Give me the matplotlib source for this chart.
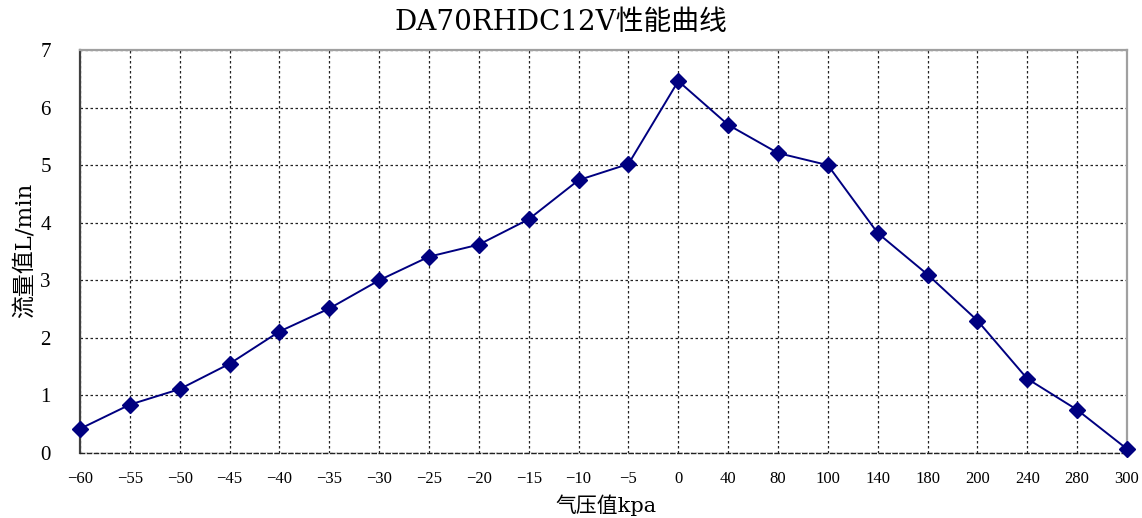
import matplotlib
matplotlib.use("Agg")
import matplotlib.pyplot as plt
import numpy as np

plt.rcParams['font.family'] = ['Liberation Serif', 'Noto Sans CJK SC', 'DejaVu Sans']

categories = ['-60', '-55', '-50', '-45', '-40', '-35', '-30', '-25', '-20', '-15', '-10', '-5',
              '0', '40', '80', '100', '140', '180', '200', '240', '280', '300']
flow = [0.42, 0.84, 1.11, 1.55, 2.11, 2.51, 3.00, 3.41, 3.62, 4.06, 4.74, 5.02,
        6.46, 5.70, 5.21, 5.00, 3.82, 3.10, 2.30, 1.29, 0.75, 0.07]
yticks = [0, 1, 2, 3, 4, 5, 6, 7]

title = 'DA70RHDC12V性能曲线'
xlabel = '气压值kpa'
ylabel = '流量值L/min'

label_family = ['DejaVu Serif', 'Noto Sans CJK SC', 'DejaVu Sans']

fig = plt.figure(figsize=(11.42, 5.18), dpi=100)
ax = fig.add_axes([80/1142, 1-453/518, (1127-80)/1142, (453-50)/518])

x = np.arange(len(categories))
ax.plot(x, flow, color='#000080', linewidth=1.4, marker='D', markersize=8.5,
        markerfacecolor='#000080', markeredgecolor='#000080', zorder=3, clip_on=False)

ax.set_xlim(0, len(categories)-1)
ax.set_ylim(0, 7)
ax.set_xticks(x)
ax.set_xticklabels([c.replace('-', '\u2212') for c in categories], fontsize=12)
ax.set_yticks(yticks)
ax.set_yticklabels([str(v) for v in yticks], fontsize=15)
ax.tick_params(axis='x', length=0, pad=13)
ax.tick_params(axis='y', length=0, pad=21)

ax.grid(True, color='#222222', linestyle=(0, (2, 2)), linewidth=0.9)
ax.set_axisbelow(True)

for s in ['top', 'right']:
    ax.spines[s].set_color('#a0a0a0')
    ax.spines[s].set_linewidth(1.6)
ax.spines['left'].set_color('#404040')
ax.spines['left'].set_linewidth(1.6)
ax.spines['bottom'].set_color('#222222')
ax.spines['bottom'].set_linestyle((0, (3, 2)))
ax.spines['bottom'].set_linewidth(1.0)

fig.text(561/1142, 1-23/518, title, ha='center', va='center', fontsize=20,
         family=label_family)
fig.text(606/1142, 1-505/518, xlabel, ha='center', va='center', fontsize=15,
         family=label_family)
fig.text(26/1142, 1-250/518, ylabel, ha='center', va='center', fontsize=16.5,
         rotation=90, family=label_family)

fig.savefig('out.png', dpi=100)
